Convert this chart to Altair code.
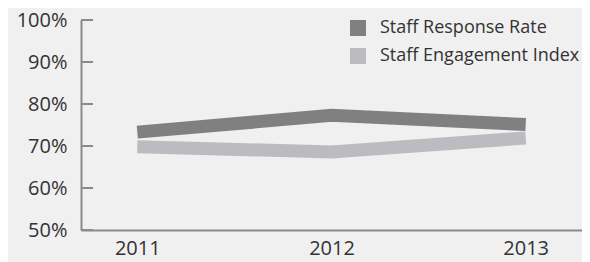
import altair as alt
import pandas as pd

years = ["2011", "2012", "2013"]
response_rate = [73.3, 77.3, 75.1]
engagement_index = [69.8, 68.6, 71.9]
series_names = ["Staff Response Rate", "Staff Engagement Index"]
series_colors = ["#808080", "#bcbbc0"]
y_ticks = [50, 60, 70, 80, 90, 100]

df_resp = pd.DataFrame({"year": years, "series": series_names[0], "value": response_rate})
df_eng = pd.DataFrame({"year": years, "series": series_names[1], "value": engagement_index})
df_all = pd.concat([df_resp, df_eng], ignore_index=True)
ticks_df = pd.DataFrame({"value": y_ticks})

FONT = "Open Sans"
y_scale = alt.Scale(domain=[50, 100], nice=False, zero=False)
x_scale = alt.Scale(type="point", padding=0.29)
color_scale = alt.Scale(domain=series_names, range=series_colors)

x_enc = alt.X("year:O", scale=x_scale, title=None,
              axis=alt.Axis(labelAngle=0, ticks=False, domainColor="#8a8a8a", domainWidth=2,
                            labelFontSize=20, labelColor="#333333", labelFont=FONT, labelPadding=8,
                            grid=False))
y_axis = alt.Axis(values=y_ticks, labelExpr="datum.value + '%'",
                  ticks=False, tickSize=0, domainColor="#8a8a8a", domainWidth=2,
                  labelFontSize=20, labelColor="#333333", labelFont=FONT,
                  labelPadding=14, grid=False)
y_enc = alt.Y("value:Q", scale=y_scale, title=None, axis=y_axis)

legend = alt.Legend(title=None, orient="none", legendX=268, legendY=-1,
                    symbolType="square", symbolSize=256, symbolStrokeWidth=0,
                    symbolOpacity=1, labelFontSize=18, labelFont=FONT, labelColor="#333333",
                    labelOffset=13, rowPadding=10, padding=0, labelLimit=400)

legend_layer = alt.Chart(df_all).mark_square(filled=True, size=0).encode(
    x=x_enc,
    y=y_enc,
    color=alt.Color("series:N", scale=color_scale, legend=legend),
)

def line_layer(d):
    return alt.Chart(d).mark_line(strokeWidth=13, strokeCap="butt", strokeJoin="miter").encode(
        x=x_enc,
        y=y_enc,
        color=alt.Color("series:N", scale=color_scale, legend=None),
    )

ticks = alt.Chart(ticks_df).mark_rule(color="#8a8a8a", strokeWidth=2).encode(
    x=alt.value(0), x2=alt.value(12),
    y=y_enc,
)

chart = alt.layer(legend_layer, ticks, line_layer(df_resp), line_layer(df_eng)).properties(
    width=501, height=210,
    autosize=alt.AutoSizeParams(type="none"),
    padding={"left": 73, "top": 12, "right": 0, "bottom": 32},
    background="#f0f0f0",
).configure_view(stroke=None)

chart.save("out.html", embed_options={"renderer": "svg", "actions": False})
